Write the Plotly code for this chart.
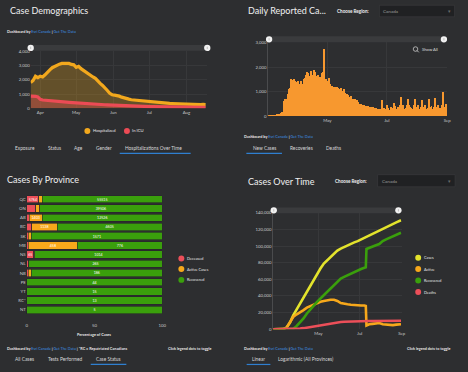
import plotly.graph_objects as go
import pandas as pd

W, H = 468, 372
BG = '#2d2e30'
FONT = 'Lato'
TICKC = '#c8c8c8'
GRID = '#37383a'
BLUE = '#3d8fe0'

# ---------------- data ----------------
# Panel 1: hospitalizations (every 2 days from 2020-03-24)
hosp_start = '2020-03-24'
hospitalized = [1800, 1950, 2250, 2150, 2250, 2200, 2350, 2550, 2700, 2850,
                2950, 3050, 3100, 3150, 3150, 3130, 3150, 3080, 3050, 2880,
                2950, 2780, 2650, 2550, 2420, 2300, 2200, 2100, 1900, 1750,
                1600, 1450, 1250, 1050, 950, 920, 900, 850, 780, 720,
                680, 640, 600, 580, 560, 550, 530, 520, 530, 510,
                470, 450, 430, 420, 400, 380, 360, 350, 340, 330,
                320, 310, 300, 290, 280, 270, 265, 260, 255, 250,
                250, 255, 270, 260]
in_icu = [850, 860, 840, 800, 620, 580, 560, 545, 530, 515,
          500, 490, 475, 460, 445, 430, 415, 400, 385, 370,
          360, 350, 340, 330, 320, 310, 300, 290, 280, 270,
          256, 248, 240, 230, 220, 210, 200, 192, 185, 178,
          170, 163, 157, 150, 145, 140, 135, 130, 125, 120,
          115, 110, 106, 102, 98, 95, 93, 90, 88, 86,
          84, 82, 80, 78, 77, 76, 75, 74, 73, 72,
          71, 70, 70, 69]
hosp_dates = pd.date_range(hosp_start, periods=len(hospitalized), freq='2D')

# Panel 2: daily reported cases from 2020-03-02
daily_start = '2020-03-02'
daily_cases = [5, 5, 8, 10, 15, 20, 30, 40, 55, 70,
               90, 110, 140, 170, 200, 620, 700, 680, 650, 700,
               900, 1100, 1150, 1500, 1470, 1300, 1500, 1450, 1300, 1400,
               1450, 1250, 1300, 1450, 1150, 1300, 1500, 1550, 1700, 1800,
               1750, 1600, 1650, 1850, 1700, 1650, 1900, 1800, 1550, 1650,
               1700, 1500, 1600, 1550, 1750, 1800, 1550, 2750, 1400, 1500,
               1400, 1450, 1550, 1300, 1200, 1250, 1150, 1200, 1180, 1100,
               1200, 1150, 1050, 1120, 1150, 1050, 1000, 1100, 950, 900,
               920, 880, 800, 780, 820, 700, 720, 650, 700, 620,
               680, 550, 600, 520, 480, 500, 450, 420, 460, 400,
               430, 380, 420, 390, 350, 400, 340, 370, 330, 300,
               350, 280, 320, 250, 300, 200, 650, 150, 350, 300,
               300, 450, 350, 150, 250, 400, 350, 300, 550, 380,
               420, 300, 150, 400, 350, 450, 770, 400, 450, 300,
               200, 350, 450, 700, 450, 400, 350, 200, 300, 450,
               700, 400, 380, 450, 200, 300, 400, 670, 350, 400,
               450, 200, 300, 350, 700, 400, 350, 420, 180, 300,
               400, 730, 400, 350, 450, 200, 350, 300, 450, 1000,
               300, 400, 500]
daily_dates = pd.date_range(daily_start, periods=len(daily_cases), freq='D')

# Panel 3: case status by province (percent)
provinces = ["QC", "ON", "AB", "BC", "SK", "MB", "NS", "NL", "NB", "PE", "YT", "RC*", "NT"]
deceased_pct = [9.0, 6.6, 1.7, 3.6, 1.2, 1.2, 5.3, 1.0, 1.2, 0, 0, 0, 0]
active_pct = [2.5, 2.9, 9.8, 18.8, 2.2, 36.2, 0.6, 0.5, 2.2, 0, 0, 0, 0]
recovered_pct = [88.5, 90.5, 88.5, 77.6, 96.6, 62.6, 94.1, 98.5, 96.6, 100, 100, 100, 100]
deceased_txt = ["5764", "", "", "", "", "", "65", "", "", "", "", "", ""]
active_txt = ["", "", "1403", "1138", "", "458", "", "", "", "", "", "", ""]
recovered_txt = ["55515", "39506", "12526", "4605", "1571", "776", "1014", "265", "186", "44", "15", "13", "5"]

# Panel 4: cumulative cases over time (thousands)
cot_dates = ["2020-02-24", "2020-03-04", "2020-03-10", "2020-03-15", "2020-03-20", "2020-03-25",
             "2020-03-30", "2020-04-04", "2020-04-09", "2020-04-14", "2020-04-19", "2020-04-24",
             "2020-04-29", "2020-05-04", "2020-05-09", "2020-05-14", "2020-05-19", "2020-05-24",
             "2020-05-29", "2020-06-03", "2020-06-08", "2020-06-13", "2020-06-18", "2020-06-23",
             "2020-06-28", "2020-07-03", "2020-07-08", "2020-07-10", "2020-07-11", "2020-07-15",
             "2020-07-20", "2020-07-25", "2020-07-30", "2020-08-04", "2020-08-09", "2020-08-14",
             "2020-08-19", "2020-08-24", "2020-08-31"]
cases_k = [0, 0.03, 0.1, 2, 8, 17, 24, 31, 38, 46,
           52, 60, 67, 73, 79, 83, 87, 91, 94.5, 97,
           99, 101, 103, 104.5, 106, 108, 110, 111, 111.5, 113.5,
           115.5, 117.5, 119, 121, 123, 125, 127, 128.5, 131]
active_k = [0, 0.03, 0.1, 2, 8, 15, 18, 20, 23, 26,
            28, 29.5, 31.5, 33, 34, 35, 35.5, 35.5, 34, 31.5,
            30.5, 30, 29.5, 29, 29, 28.5, 28.5, 28, 4.5, 6,
            6.5, 7, 7.5, 6, 5.5, 5.5, 5, 5.5, 6]
recovered_k = [0, 0, 0, 0, 0, 0.5, 4, 8, 13, 19,
               24, 29, 33, 37, 41, 45, 49, 53, 57, 61,
               63, 65, 67, 69, 71, 72.5, 74, 74.5, 96.5, 98,
               99.5, 101, 102.5, 106, 108, 110, 112, 114, 116]
deaths_k = [0, 0, 0, 0.01, 0.05, 0.2, 0.4, 0.8, 1.3, 2,
            2.8, 3.6, 4.5, 5.3, 6, 6.8, 7.5, 8, 8.5, 8.8,
            9.1, 9.3, 9.4, 9.5, 9.6, 9.7, 9.8, 9.8, 9.8, 9.9,
            9.9, 10, 10, 10, 10.1, 10.1, 10.2, 10.2, 10.3]

# ---------------- colours ----------------
C_HOSP = '#f2a81d'
C_ICU = '#ec4b55'
C_DAILY = '#f7982f'
C_RED = '#ec4f59'
C_ORG = '#f7a81b'
C_GRN = '#3a9f0c'
C_YEL = '#e3e32c'

fig = go.Figure()

# Panel 1
fig.add_trace(go.Scatter(x=hosp_dates, y=hospitalized, mode='lines',
                         line=dict(color=C_HOSP, width=3.2), fill='tozeroy',
                         fillcolor='rgba(242,168,29,0.28)', xaxis='x', yaxis='y'))
fig.add_trace(go.Scatter(x=hosp_dates, y=in_icu, mode='lines',
                         line=dict(color=C_ICU, width=3.2), fill='tozeroy',
                         fillcolor='rgba(236,75,85,0.35)', xaxis='x', yaxis='y'))

# Panel 2
fig.add_trace(go.Bar(x=daily_dates, y=daily_cases, marker=dict(color=C_DAILY, line=dict(width=0)),
                     width=86400000, xaxis='x2', yaxis='y2'))

# Panel 3
for vals, txt, col in [(deceased_pct, deceased_txt, C_RED),
                       (active_pct, active_txt, C_ORG),
                       (recovered_pct, recovered_txt, C_GRN)]:
    fig.add_trace(go.Bar(y=provinces, x=vals, orientation='h', text=txt,
                         textposition='inside', insidetextanchor='middle', constraintext='none',
                         textangle=0,
                         textfont=dict(size=3.6, color='white', family=FONT),
                         marker=dict(color=col, line=dict(width=0.6, color='#262729')),
                         width=0.8, xaxis='x3', yaxis='y3'))

# Panel 4
for vals, col in [(cases_k, C_YEL), (active_k, C_ORG), (recovered_k, C_GRN), (deaths_k, C_RED)]:
    fig.add_trace(go.Scatter(x=cot_dates, y=[v * 1000 for v in vals], mode='lines',
                             line=dict(color=col, width=2.6), xaxis='x4', yaxis='y4'))


def X(px):
    return px / W


def Y(py):
    return 1 - py / H


tickfont = dict(size=4.3, color=TICKC, family=FONT)

fig.update_layout(
    width=W, height=H, margin=dict(l=0, r=0, t=0, b=0),
    paper_bgcolor=BG, plot_bgcolor=BG, showlegend=False, barmode='stack',
    font=dict(family=FONT, color='#e6e6e6'),
    xaxis=dict(domain=[X(30), X(208)], range=['2020-03-24', '2020-08-18'], type='date',
               tickvals=['2020-04-01', '2020-05-01', '2020-06-01', '2020-07-01', '2020-08-01'],
               ticktext=['Apr', 'May', 'Jun', 'Jul', 'Aug'], tickfont=tickfont,
               showgrid=True, gridcolor=GRID, zeroline=False, anchor='y'),
    yaxis=dict(domain=[Y(107.7), Y(50)], range=[0, 4000], tickvals=[0, 1000, 2000, 3000, 4000],
               tickformat=',', tickfont=tickfont, showgrid=True, gridcolor=GRID, zeroline=False,
               anchor='x'),
    xaxis2=dict(domain=[X(270), X(451)], range=['2020-03-01', '2020-09-01'], type='date',
                tickvals=['2020-05-01', '2020-07-01', '2020-09-01'], ticktext=['May', 'Jul', 'Sep'],
                tickfont=tickfont, showgrid=True, gridcolor=GRID, zeroline=False, anchor='y2'),
    yaxis2=dict(domain=[Y(116), Y(41)], range=[0, 3000], tickvals=[0, 1000, 2000, 3000],
                tickformat=',', tickfont=tickfont, showgrid=True, gridcolor=GRID, zeroline=False,
                showline=True, linecolor='#4a4b4d', linewidth=0.6, anchor='x2'),
    xaxis3=dict(domain=[X(26), X(163)], range=[0, 100], tickvals=[0, 50, 100], tickfont=tickfont,
                showgrid=False, zeroline=False, ticks='outside', ticklen=6,
                tickcolor='rgba(0,0,0,0)', anchor='y3'),
    yaxis3=dict(domain=[Y(316.7), Y(195.3)], categoryorder='array', categoryarray=provinces,
                autorange='reversed', tickfont=tickfont, showgrid=False, zeroline=False,
                anchor='x3'),
    xaxis4=dict(domain=[X(275), X(405)], range=['2020-02-24', '2020-09-01'], type='date',
                tickvals=['2020-05-01', '2020-07-01', '2020-09-01'], ticktext=['May', 'Jul', 'Sep'],
                tickfont=tickfont, showgrid=True, gridcolor=GRID, zeroline=False, anchor='y4'),
    yaxis4=dict(domain=[Y(331.7), Y(213.7)], range=[0, 140000], dtick=20000, tickformat=',',
                tickfont=tickfont, showgrid=True, gridcolor=GRID, zeroline=False,
                showline=True, linecolor='#4a4b4d', linewidth=0.6, anchor='x4'),
)

shapes = []
ann = []


def text(x, y, s, size, color='#e6e6e6', anchor='left', family=FONT):
    ann.append(dict(x=X(x), y=Y(y), xref='paper', yref='paper', text=s, showarrow=False,
                    xanchor=anchor, yanchor='middle', borderpad=0,
                    font=dict(size=size, color=color, family=family)))


def circle(cx, cy, r, color, lw=0, lc=None):
    shapes.append(dict(type='circle', xref='paper', yref='paper', x0=X(cx - r), x1=X(cx + r),
                       y0=Y(cy + r), y1=Y(cy - r), fillcolor=color,
                       line=dict(width=lw, color=lc or color), layer='above'))


def rect(x0, y0, x1, y1, color, lw=0, lc=None, layer='above'):
    shapes.append(dict(type='rect', xref='paper', yref='paper', x0=X(x0), x1=X(x1),
                       y0=Y(y1), y1=Y(y0), fillcolor=color,
                       line=dict(width=lw, color=lc or color), layer=layer))


def line(x0, y0, x1, y1, color, w):
    shapes.append(dict(type='line', xref='paper', yref='paper', x0=X(x0), x1=X(x1),
                       y0=Y(y0), y1=Y(y1), line=dict(color=color, width=w), layer='above'))


def slider(x0, x1, yc):
    rect(x0, yc - 3, x1, yc + 3, '#3a3b3d', layer='below')
    for cx in (x0, x1):
        circle(cx, yc, 3.2, '#f2f2f2')
        line(cx, yc - 1.2, cx, yc + 1.2, '#9a9a9a', 0.6)


def dropdown(x0, y0, x1, y1):
    rect(x0, y0, x1, y1, '#202123', lw=0.6, lc='#3c3d3f')
    text(x0 + 3, (y0 + y1) / 2, 'Canada', 4.6, '#9a9a9a')
    text(x1 - 3, (y0 + y1) / 2, '▾', 5, '#6a6a6a', anchor='right', family='DejaVu Sans')


def credit(x, y, extra=''):
    s = ("<b>Dashboard by </b><span style='color:%s'>Esri Canada</span><b> | </b>"
         "<span style='color:%s'>Get The Data</span>" % (BLUE, BLUE))
    if extra:
        s += '<b>' + extra + '</b>'
    text(x, y, s, 3.8, '#e6e6e6')


TITLE = 9

# ---- Panel 1 decorations ----
text(8, 8.5, 'Case Demographics', TITLE, '#f0f0f0')
credit(5, 29.7)
slider(30, 208.5, 46.5)
circle(87.3, 130.7, 3, C_HOSP)
text(91.5, 130.7, 'Hospitalized', 4.2)
circle(127.3, 130.7, 3, C_ICU)
text(131, 130.7, 'In ICU', 4.2)
for lbl, x in [('Exposure', 12.7), ('Status', 46.7), ('Age', 72.7), ('Gender', 94.7),
               ('Hospitalizations Over Time', 124.3)]:
    text(x, 148.3, lbl, 4.8, '#d8d8d8')
rect(120, 152.8, 191.7, 154.0, '#2f7fd0')

# ---- Panel 2 decorations ----
text(249, 8.7, 'Daily Reported Ca...', TITLE, '#f0f0f0')
text(339, 8.7, '<b>Choose Region:</b>', 4.6, '#f0f0f0')
dropdown(382.5, 3.3, 458.5, 15)
slider(271, 447.7, 37.8)
circle(419, 47.7, 2.3, 'rgba(0,0,0,0)', lw=0.7, lc='#dcdcdc')
line(420.6, 49.3, 422.3, 51, '#dcdcdc', 0.8)
text(425, 47.7, 'Show All', 4.2, '#dcdcdc')
credit(245, 136.7)
for lbl, x in [('New Cases', 253.3), ('Recoveries', 290.7), ('Deaths', 328)]:
    text(x, 148.3, lbl, 4.8, '#d8d8d8')
rect(248, 152.8, 284, 154.0, '#2f7fd0')

# ---- Panel 3 decorations ----
text(5, 179.5, 'Cases By Province', TITLE, '#f0f0f0')
text(94.5, 337, '<b>Percentage of Cases</b>', 3.8, '#e6e6e6', anchor='center')
for lbl, y, col in [('Deceased', 260, C_RED), ('Active Cases', 270.7, C_ORG), ('Recovered', 281.7, C_GRN)]:
    circle(182.3, y, 3, col)
    text(187.5, y, lbl, 3.8)
credit(5, 351.7, ' | *RC = Repatriated Canadians')
text(168, 351.7, '<b>Click legend dots to toggle</b>', 3.7)
for lbl, x in [('All Cases', 12.7), ('Tests Performed', 46), ('Case Status', 95)]:
    text(x, 362.3, lbl, 4.8, '#d8d8d8')
rect(90.7, 366.8, 126.7, 368.0, '#2f7fd0')

# ---- Panel 4 decorations ----
text(249, 181.7, 'Cases Over Time', TITLE, '#f0f0f0')
text(337, 181.7, '<b>Choose Region:</b>', 4.6, '#f0f0f0')
dropdown(380.7, 175, 459, 187.3)
slider(275.7, 401.7, 211.2)
for lbl, y, col in [('Cases', 259.3, C_YEL), ('Active', 270.7, C_ORG),
                    ('Recovered', 282.3, C_GRN), ('Deaths', 294, C_RED)]:
    circle(421.7, y, 3, col)
    text(426.7, y, lbl, 3.8)
credit(245, 351)
text(409, 351, '<b>Click legend dots to toggle</b>', 3.7)
for lbl, x in [('Linear', 253), ('Logarithmic (All Provinces)', 279)]:
    text(x, 362.3, lbl, 4.8, '#d8d8d8')
rect(248.3, 366.8, 272.3, 368.0, '#2f7fd0')

fig.update_layout(shapes=shapes, annotations=ann)
fig.write_html('out.html', config={'displayModeBar': False},
               post_script="document.body.style.margin='0px';document.body.style.background='%s';" % BG)
